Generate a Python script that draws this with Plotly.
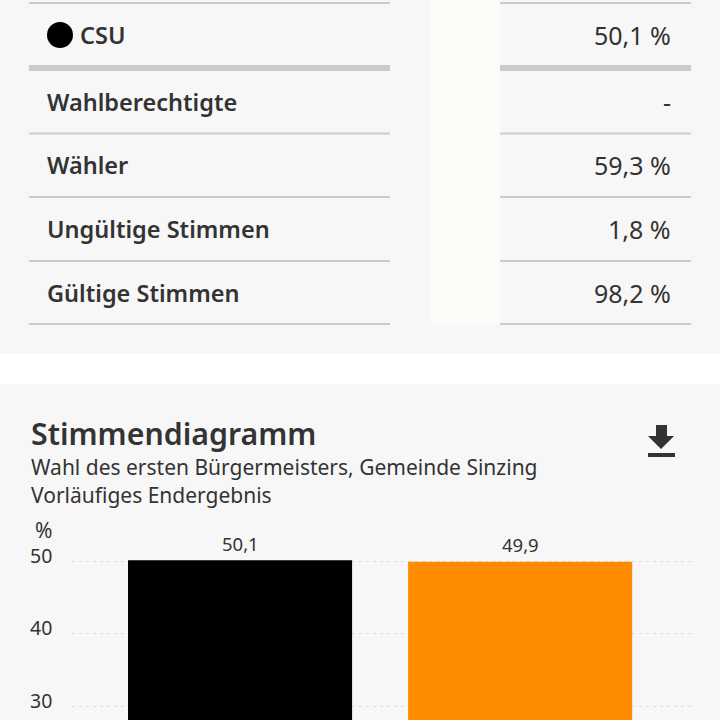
import plotly.graph_objects as go

# table above the chart
row_labels = ["CSU", "Wahlberechtigte", "Wähler", "Ungültige Stimmen", "Gültige Stimmen"]
row_values = ["50,1 %", "-", "59,3 %", "1,8 %", "98,2 %"]
row_centers = [35, 102, 166, 230, 293]
rule_rows = [3, 68, 133.5, 197, 261, 324]
rule_widths = [2, 6, 2, 2, 2, 2]

# bar chart
parties = ["CSU", "Sonstige"]
shares = [50.1, 49.9]
bar_colors = ["#000000", "#ff8c00"]
y_ticks = [30, 40, 50]

BG = "#f7f7f7"
TEXT = "#333333"
RULE = "#cccccc"
FONT = "Noto Sans"


def px(x):
    return x / 720


def py(y):
    return 1 - y / 720


def label(text, x, y, size, anchor="left", weight=400, color=TEXT):
    # annotations carry about 2px of padding, take it back out
    shift = {"left": -2, "right": 2}[anchor]
    fig.add_annotation(text=text, x=px(x), y=py(y), xref="paper", yref="paper", showarrow=False,
                       xanchor=anchor, yanchor="middle", xshift=shift, yshift=0,
                       font=dict(family=FONT, size=size, color=color, weight=weight))


fig = go.Figure()
fig.add_trace(go.Bar(x=parties, y=shares, width=0.8, marker=dict(color=bar_colors, line_width=0),
                     cliponaxis=False, hoverinfo="skip"))

# white gap between the two cards
fig.add_shape(type="rect", xref="paper", yref="paper", x0=0, x1=1, y0=py(384), y1=py(354),
              fillcolor="#ffffff", line_width=0, layer="below")
# pale middle column
fig.add_shape(type="rect", xref="paper", yref="paper", x0=px(431), x1=px(500), y0=py(324), y1=py(0),
              fillcolor="#fbfcf6", line_width=0, layer="below")

for y, w in zip(rule_rows, rule_widths):
    fig.add_shape(type="line", xref="paper", yref="paper", x0=px(29), x1=px(390), y0=py(y), y1=py(y),
                  line=dict(color=RULE, width=w))
    fig.add_shape(type="line", xref="paper", yref="paper", x0=px(500), x1=px(691), y0=py(y), y1=py(y),
                  line=dict(color=RULE, width=w))

for i, (name, val, y) in enumerate(zip(row_labels, row_values, row_centers)):
    label(name, 80 if i == 0 else 47, y - 0.5, 23.5, weight=600)
    label(val, 671, y - 0.5, 25, anchor="right")

# party dot
fig.add_shape(type="circle", xref="paper", yref="paper", x0=px(47), x1=px(73), y0=py(48), y1=py(22),
              fillcolor="#000000", line_width=0)

# headline
label("Stimmendiagramm", 31, 433, 30.3, weight=600)
label("Wahl des ersten Bürgermeisters, Gemeinde Sinzing", 31, 467, 21)
label("Vorläufiges Endergebnis", 31, 495, 21)
label("%", 52, 530, 21, anchor="right")

# tick labels sit a little above their gridlines, so plain axis labels won't do
for t in y_ticks:
    fig.add_annotation(text=str(t), x=px(54), xref="paper", y=t, yref="y", yshift=6, showarrow=False,
                       xanchor="right", yanchor="middle", font=dict(family=FONT, size=19.5, color=TEXT))

# value labels above the bars
for party, v in zip(parties, shares):
    fig.add_annotation(text=f"{v:.1f}".replace(".", ","), x=party, y=v, yshift=17, showarrow=False,
                       xanchor="center", yanchor="middle", font=dict(family=FONT, size=18.5, color=TEXT))

# download icon
arrow = [(656, 425), (667, 425), (667, 436), (674, 436), (661, 449), (648, 436), (656, 436)]
path = "M " + " L ".join(f"{px(a)},{py(b)}" for a, b in arrow) + " Z"
fig.add_shape(type="path", xref="paper", yref="paper", path=path, fillcolor=TEXT, line_width=0)
fig.add_shape(type="rect", xref="paper", yref="paper", x0=px(648), x1=px(675), y0=py(457), y1=py(453),
              fillcolor=TEXT, line_width=0)

fig.update_layout(
    width=720, height=720, margin=dict(l=0, r=0, t=0, b=0),
    paper_bgcolor=BG, plot_bgcolor="rgba(0,0,0,0)", showlegend=False, separators=",.",
    xaxis=dict(domain=[px(72), px(691)], range=[-0.6, 1.61], showticklabels=False, showgrid=False,
               zeroline=False, ticks=""),
    yaxis=dict(domain=[0, 1], range=[28.07, 127.4], tickvals=y_ticks, showgrid=True, griddash="3px,4px",
               gridcolor="#dddddd", gridwidth=1, zeroline=False, showline=False, ticks="",
               showticklabels=False),
)
# page default margin would push the figure 8px in
fig.write_html("out.html", config=dict(displayModeBar=False),
               post_script="document.body.style.margin='0';document.body.style.overflow='hidden';")
